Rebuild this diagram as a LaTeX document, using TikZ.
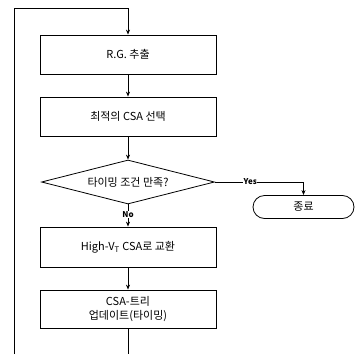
\documentclass[tikz,border=0pt]{standalone}
\usepackage{fontspec}
\setmainfont{Noto Sans CJK KR}
\usetikzlibrary{shapes.geometric,shapes.misc,arrows.meta}
\begin{document}
\begin{tikzpicture}[x=1pt,y=-1pt,
  font=\fontsize{11}{14}\selectfont,
  line width=0.8pt,
  procbox/.style={draw, minimum width=176pt, minimum height=39pt, inner sep=1pt, align=center},
  decision/.style={draw, diamond, aspect=3.85, minimum width=173pt, minimum height=44pt, inner sep=0pt},
  term/.style={draw, rounded rectangle, minimum width=103pt, minimum height=23pt, inner sep=1pt},
  arr/.style={-{Stealth[length=5pt,width=4pt]}},
  lbl/.style={fill=white, inner sep=0.5pt, font=\fontsize{8}{9}\selectfont\bfseries}]
\useasboundingbox (0,0) rectangle (359,354);
\node[procbox] (b1) at (128,54.5) {R.G. 추출};
\node[procbox] (b2) at (128,116.5) {최적의 CSA 선택};
\node[decision] (d) at (128,182) {타이밍 조건 만족?};
\node[procbox, minimum height=40pt] (b3) at (128,247) {High-V\textsubscript{T} CSA로 교환};
\node[procbox, minimum height=38pt] (b4) at (128,309) {CSA-트리\\업데이트(타이밍)};
\node[term] (t) at (303.5,207) {종료};
\coordinate (bl) at (14,354);
\coordinate (br) at (128,354);
\coordinate (tl) at (14,8);
\draw[arr] (b1) -- (b2);
\draw[arr] (b2) -- (d);
\draw[arr] (d) -- node[lbl, pos=0.45] {No} (b3);
\draw[arr] (b3) -- (b4);
\draw (b4) -- (br);
\draw[arr] (bl) -- (tl) -| (b1);
\draw[arr] (d.east) -- node[lbl, pos=0.4] {Yes} (303.5,182) -- (t);
\end{tikzpicture}
\end{document}
